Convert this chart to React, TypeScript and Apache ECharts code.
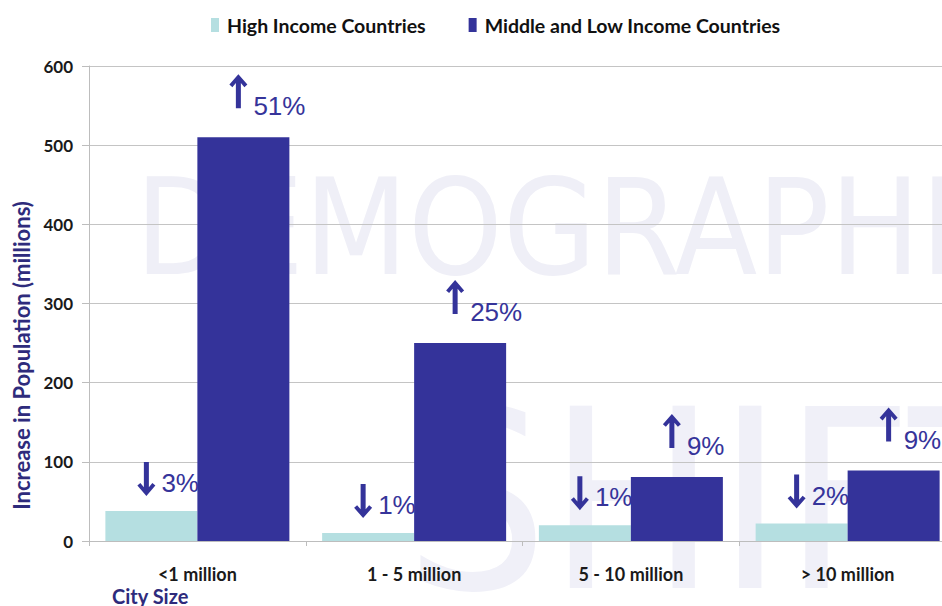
import React, { useEffect, useRef } from "react";
import * as echarts from "echarts";

const categories = ["<1 million", "1 - 5 million", "5 - 10 million", "> 10 million"];
const highIncome = [38, 10, 20, 22];
const midLowIncome = [510, 250, 81, 89];
const highChange = ["3%", "1%", "1%", "2%"];
const midLowChange = ["51%", "25%", "9%", "9%"];
const seriesNames = ["High Income Countries", "Middle and Low Income Countries"];
const yMin = 0;
const yMax = 600;
const yStep = 100;

const NAVY = "#34339a";
const LABEL = "#36349a";
const AXIS_NAME = "#2e2b7c";

const UP_ARROW = "path://M9 0 L18 10 L15 12.5 L11.5 8.5 L11.5 33 L6.5 33 L6.5 8.5 L3 12.5 L0 10 Z";
const DOWN_ARROW = "path://M9 33 L18 23 L15 20.5 L11.5 24.5 L11.5 0 L6.5 0 L6.5 24.5 L3 20.5 L0 23 Z";

export default function App() {
  const ref = useRef<HTMLDivElement>(null);
  useEffect(() => {
    if (!ref.current) return;
    const chart = echarts.init(ref.current, undefined, { renderer: "svg" });
    const pctLabel = (texts: string[], distance: number) => ({
      show: true,
      position: "top",
      align: "left",
      distance,
      offset: [10, 0],
      fontFamily: "Liberation Sans",
      fontSize: 26,
      color: LABEL,
      formatter: (p: any) => texts[p.dataIndex],
    });
    chart.setOption({
      animation: false,
      backgroundColor: "#ffffff",
      textStyle: { fontFamily: "Lato" },
      legend: {
        top: 10,
        left: 206,
        itemWidth: 8,
        itemHeight: 14,
        itemGap: 43,
        icon: "rect",
        textStyle: { fontFamily: "Lato", fontWeight: "bold", fontSize: 19.5, color: "#111111", padding: [0, 0, 0, 3] },
        data: seriesNames,
      },
      grid: { left: 89, width: 867, top: 66, bottom: 65, containLabel: false, outerBoundsMode: "none" },
      graphic: [
        {
          type: "text",
          z: -10,
          silent: true,
          x: 135,
          y: 228,
          style: {
            text: "DEMOGRAPHICS",
            fontFamily: "DejaVu Sans Condensed",
            fontSize: 134,
            fill: "#efeff7",
            verticalAlign: "middle",
          },
        },
        {
          type: "text",
          z: -10,
          silent: true,
          x: 405,
          y: 501,
          style: {
            text: "SHIFT",
            fontFamily: "DejaVu Sans Condensed",
            fontSize: 250,
            fill: "#f0f0f8",
            verticalAlign: "middle",
          },
        },
        {
          type: "text",
          left: 112,
          top: 586,
          style: { text: "City Size", fontFamily: "Lato", fontWeight: "bold", fontSize: 20, fill: AXIS_NAME },
        },
      ],
      xAxis: {
        type: "category",
        data: categories,
        axisLine: { lineStyle: { color: "#bdbdbd" } },
        axisTick: { show: true, length: 5, lineStyle: { color: "#bdbdbd" } },
        axisLabel: { margin: 24, fontFamily: "Lato", fontWeight: "bold", fontSize: 18, color: "#1a1a1a" },
      },
      yAxis: {
        type: "value",
        min: yMin,
        max: yMax,
        interval: yStep,
        name: "Increase in Population (millions)",
        nameLocation: "middle",
        nameGap: 54,
        nameTextStyle: {
          fontFamily: "Lato",
          fontWeight: "bold",
          fontSize: 22,
          color: AXIS_NAME,
          padding: [0, 104, 0, 0],
        },
        axisLine: { show: true, lineStyle: { color: "#bdbdbd" } },
        axisTick: { show: true, length: 7, lineStyle: { color: "#bdbdbd" } },
        axisLabel: { margin: 16, fontFamily: "Lato", fontWeight: "bold", fontSize: 17, color: "#1a1a1a" },
        splitLine: { lineStyle: { color: "#c4c4c4" } },
      },
      series: [
        {
          name: seriesNames[0],
          type: "bar",
          data: highIncome,
          barWidth: 92,
          barGap: "0%",
          itemStyle: { color: "#b5dfe1" },
          label: pctLabel(highChange, 15),
          markPoint: {
            symbol: DOWN_ARROW,
            symbolSize: [18, 34],
            symbolOffset: [-5, -32],
            itemStyle: { color: NAVY },
            label: { show: false },
            silent: true,
            data: highIncome.map((v, i) => ({ coord: [i, v] })),
          },
        },
        {
          name: seriesNames[1],
          type: "bar",
          data: midLowIncome,
          barWidth: 92,
          barGap: "0%",
          itemStyle: { color: NAVY },
          label: pctLabel(midLowChange, 18),
          markPoint: {
            symbol: UP_ARROW,
            symbolSize: [18, 34],
            symbolOffset: [-5, -46],
            itemStyle: { color: NAVY },
            label: { show: false },
            silent: true,
            data: midLowIncome.map((v, i) => ({ coord: [i, v] })),
          },
        },
      ],
    });
    return () => chart.dispose();
  }, []);
  return <div ref={ref} style={{ position: "fixed", left: 0, top: 0, width: 942, height: 606 }} />;
}
